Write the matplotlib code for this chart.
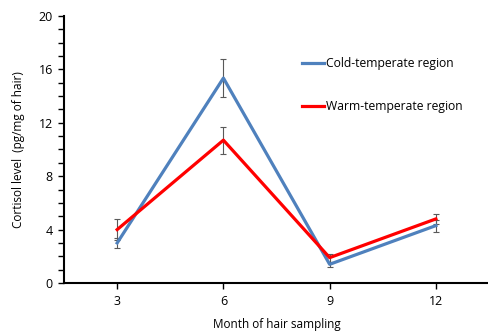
import matplotlib
matplotlib.use('Agg')
import matplotlib.pyplot as plt
from matplotlib.ticker import MultipleLocator

plt.rcParams['font.family'] = ['Open Sans', 'DejaVu Sans']

months = [3, 6, 9, 12]
cold = [3.0, 15.35, 1.4, 4.3]
cold_err = [0.4, 1.45, 0.2, 0.45]
warm = [4.0, 10.7, 1.9, 4.8]
warm_err = [0.8, 1.0, 0.3, 0.35]

BLUE = '#4F81BD'
RED = '#FF0000'
GREY = '#595959'

fig = plt.figure(figsize=(4.89, 3.32), dpi=100, facecolor='white')
ax = fig.add_axes([0.131, 0.1476, 0.869, 0.8042])

ax.errorbar(months, cold, yerr=cold_err, fmt='none', ecolor=GREY,
            elinewidth=0.8, capsize=2.5, capthick=0.8, zorder=2)
ax.errorbar(months, warm, yerr=warm_err, fmt='none', ecolor=GREY,
            elinewidth=0.8, capsize=2.5, capthick=0.8, zorder=2)
ax.plot(months, cold, color=BLUE, linewidth=2.3, label='Cold-temperate region', zorder=3)
ax.plot(months, warm, color=RED, linewidth=2.3, label='Warm-temperate region', zorder=3)

ax.set_xlim(1.5, 13.5)
ax.set_ylim(0, 20)
ax.set_xticks(months)
ax.yaxis.set_major_locator(MultipleLocator(4))
ax.yaxis.set_minor_locator(MultipleLocator(1))

for side in ('top', 'right'):
    ax.spines[side].set_visible(False)
for side in ('left', 'bottom'):
    ax.spines[side].set_linewidth(1.5)
ax.spines['bottom'].set_zorder(4)

ax.tick_params(axis='both', which='major', direction='out', length=4,
               width=1.0, labelsize=9, colors='black')
ax.tick_params(axis='x', which='major', pad=5)
ax.tick_params(axis='y', which='minor', direction='out', length=4, width=1.0)
ax.tick_params(axis='y', which='major', pad=4)

ax.set_ylabel('Cortisol level  (pg/mg of hair)', fontsize=8.5, labelpad=10)
ax.set_xlabel('Month of hair sampling', fontsize=8.5, labelpad=7)

ax.legend(loc='upper left', bbox_to_anchor=(0.56, 0.847), frameon=False,
          fontsize=8.7, handlelength=1.8, handletextpad=0.15,
          labelspacing=2.5, borderpad=0, borderaxespad=0)

fig.savefig('out.png', dpi=100, facecolor='white')
